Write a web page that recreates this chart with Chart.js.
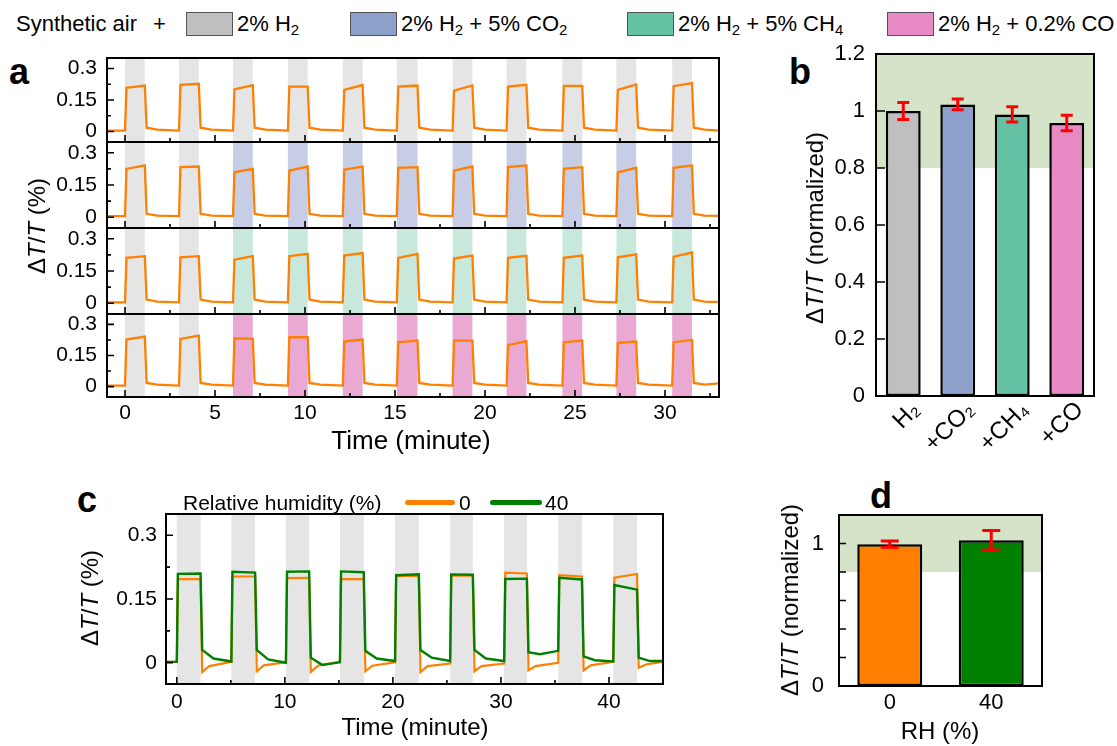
<!DOCTYPE html>
<html>
<head>
<meta charset="utf-8">
<script src="https://cdn.jsdelivr.net/npm/chart.js@4.4.1/dist/chart.umd.min.js"></script>
<style>
  body { margin: 0; background: #fff; }
  #fig { position: relative; width: 1117px; height: 746px; overflow: hidden; font-family: 'Liberation Sans', Arial, sans-serif; color: #000; }
  #fig canvas { position: absolute; }
  .txt { position: absolute; white-space: nowrap; line-height: 1; font-size: 21px; transform: translateY(-50%); }
  .leg { font-size: 22px; }
  .vlab { position: absolute; white-space: nowrap; line-height: 1; font-size: 24px; transform: translate(-50%, -50%) rotate(-90deg); }
  .hlab { position: absolute; white-space: nowrap; line-height: 1; font-size: 24px; transform: translate(-50%, -50%); }
  .letter { position: absolute; font-weight: bold; font-size: 36px; line-height: 1; }
  .box { position: absolute; top: 12px; width: 47px; height: 24px; border: 1px solid #555; box-sizing: border-box; }
  .sw { position: absolute; height: 5px; border-radius: 3px; }
  sub { font-size: 0.68em; vertical-align: -0.3em; line-height: 0; }
</style>
</head>
<body>
<div id="fig">
  <!-- top legend -->
  <div class="txt leg" style="left:16px;top:24px">Synthetic air</div>
  <div class="txt leg" style="left:153px;top:24px">+</div>
  <div class="box" style="left:186px;background:#bfbfbf"></div>
  <div class="txt leg" style="left:237px;top:24px">2% H<sub>2</sub></div>
  <div class="box" style="left:350px;background:#8da0cb"></div>
  <div class="txt leg" style="left:401px;top:24px">2% H<sub>2</sub> + 5% CO<sub>2</sub></div>
  <div class="box" style="left:627px;background:#66c2a5"></div>
  <div class="txt leg" style="left:678px;top:24px">2% H<sub>2</sub> + 5% CH<sub>4</sub></div>
  <div class="box" style="left:887px;background:#e78ac3"></div>
  <div class="txt leg" style="left:938px;top:24px">2% H<sub>2</sub> + 0.2% CO</div>

  <div class="letter" style="left:9px;top:54px">a</div>
  <div class="letter" style="left:789px;top:54px">b</div>
  <div class="letter" style="left:77px;top:482px">c</div>
  <div class="letter" style="left:870px;top:478px">d</div>

  <canvas id="a1"></canvas>
  <canvas id="a2"></canvas>
  <canvas id="a3"></canvas>
  <canvas id="a4"></canvas>
  <canvas id="b"></canvas>
  <canvas id="c"></canvas>
  <canvas id="d"></canvas>

  <div class="vlab" style="left:37px;top:226px">&Delta;<i>T</i>/<i>T</i> (%)</div>
  <div class="hlab" style="left:411px;top:440px;font-size:26px">Time (minute)</div>
  <div class="vlab" style="left:815px;top:228px">&Delta;<i>T</i>/<i>T</i> (normalized)</div>
  <div class="vlab" style="left:90px;top:598px">&Delta;<i>T</i>/<i>T</i> (%)</div>
  <div class="hlab" style="left:415px;top:727px">Time (minute)</div>
  <div class="vlab" style="left:790px;top:600px">&Delta;<i>T</i>/<i>T</i> (normalized)</div>
  <div class="hlab" style="left:940px;top:731px">RH (%)</div>

  <!-- panel c legend -->
  <div class="txt" style="left:183px;top:502px">Relative humidity (%)</div>
  <div class="sw" style="left:405px;top:500px;width:50px;background:#ff7f00"></div>
  <div class="txt" style="left:459px;top:502px">0</div>
  <div class="sw" style="left:490px;top:500px;width:52px;background:#008000"></div>
  <div class="txt" style="left:545px;top:502px">40</div>
</div>

<script>
// ---- panel a data: gas pulses (minutes) ----
const pulseOnA  = [0, 3.0, 6.0, 9.05, 12.1, 15.1, 18.2, 21.2, 24.3, 27.3, 30.4];
const pulseOffA = [1.1, 4.1, 7.1, 10.15, 13.2, 16.25, 19.3, 22.3, 25.4, 28.4, 31.5];
// response level right after the rise and right before the fall, one row per subplot
const riseA = [
  [0.208, 0.222, 0.200, 0.214, 0.198, 0.214, 0.195, 0.214, 0.217, 0.198, 0.216],
  [0.225, 0.233, 0.209, 0.217, 0.221, 0.230, 0.217, 0.233, 0.225, 0.209, 0.230],
  [0.211, 0.214, 0.203, 0.219, 0.222, 0.211, 0.208, 0.211, 0.211, 0.214, 0.217],
  [0.227, 0.230, 0.233, 0.238, 0.217, 0.214, 0.222, 0.200, 0.214, 0.211, 0.214]
];
const fallA = [
  [0.219, 0.227, 0.221, 0.214, 0.221, 0.219, 0.219, 0.222, 0.217, 0.224, 0.230],
  [0.241, 0.236, 0.225, 0.236, 0.236, 0.233, 0.236, 0.241, 0.233, 0.230, 0.241],
  [0.219, 0.219, 0.219, 0.230, 0.233, 0.230, 0.222, 0.221, 0.222, 0.227, 0.236],
  [0.241, 0.246, 0.230, 0.238, 0.227, 0.222, 0.222, 0.219, 0.222, 0.217, 0.225]
];
const baseA  = [0.004, 0.005, 0.004, 0.005];
const tailA  = [0.018, 0.016, 0.017, 0.018];  // just after the fall
const tail2A = [0.009, 0.008, 0.008, 0.010];  // ~0.7 min after the fall
const endA   = [0.004, 0.006, 0.005, 0.016];
const xTicksA = [0, 5, 10, 15, 20, 25, 30];
const xMinorA = [2.5, 7.5, 12.5, 17.5, 22.5, 27.5, 32.5];
const yTicksA = [0, 0.15, 0.3];
const yMinorA = [0.075, 0.225];
const gasShade = ['#e5e5e5', '#c6cde5', '#c8e8dc', '#eaa9d2'];

// ---- panel b data ----
const catsB = ['H\u2082', '+CO\u2082', '+CH\u2084', '+CO'];
const valsB = [1.0, 1.023, 0.988, 0.958];
const errB  = [0.03, 0.019, 0.027, 0.027];
const colorsB = ['#bfbfbf', '#8da0cb', '#66c2a5', '#e78ac3'];
const yTicksB = [0, 0.2, 0.4, 0.6, 0.8, 1, 1.2];

// ---- panel c data ----
const pulseOnC  = [0, 5.05, 10.1, 15.1, 20.2, 25.3, 30.3, 35.3, 40.4];
const pulseOffC = [2.2, 7.25, 12.25, 17.3, 22.4, 27.4, 32.4, 37.5, 42.6];
const orangeRiseC    = [0.197, 0.203, 0.199, 0.197, 0.204, 0.205, 0.212, 0.206, 0.200];
const orangeFallC    = [0.197, 0.203, 0.200, 0.197, 0.205, 0.205, 0.210, 0.203, 0.209];
const orangeDipC     = [-0.022, -0.020, -0.022, -0.020, -0.022, -0.020, -0.018, -0.018, -0.012];
const orangeRecoverC = [-0.008, -0.006, -0.007, -0.007, -0.008, -0.008, -0.008, -0.006, -0.004];
const orangeSettleC  = [0.002, 0.001, 0.003, 0.001, -0.002, -0.002, 0.000, 0.002, 0.002];
const greenRiseC     = [0.209, 0.214, 0.214, 0.215, 0.206, 0.208, 0.197, 0.200, 0.183];
const greenFallC     = [0.210, 0.212, 0.215, 0.213, 0.208, 0.207, 0.198, 0.196, 0.172];
const greenTailC     = [0.030, 0.030, 0.012, 0.028, 0.030, 0.030, 0.025, 0.015, 0.012];
const greenMidC      = [0.010, 0.008, -0.005, 0.010, 0.012, 0.010, 0.020, 0.006, 0.004];
const greenSettleC   = [0.003, 0.000, 0.001, 0.004, 0.004, 0.004, 0.028, 0.003, 0.004];
const xTicksC = [0, 10, 20, 30, 40];
const xMinorC = [5, 15, 25, 35];
const yTicksC = [0, 0.15, 0.3];
const yMinorC = [0.075, 0.225];

// ---- panel d data ----
const catsD = ['0', '40'];
const valsD = [0.995, 1.023];
const errD  = [0.022, 0.068];
const colorsD = ['#ff7f00', '#008000'];
const yTicksD = [0, 1];
const yMarksD = [0, 0.2, 0.4, 0.6, 0.8, 1];

const FONT = "'Liberation Sans', Arial, sans-serif";
Chart.defaults.font.family = FONT;
Chart.defaults.color = '#000';
const PAD = 14;

function place(id, area, yW, xH) {
  const c = document.getElementById(id);
  const w = area.r - area.l + yW + 2 * PAD;
  const h = area.b - area.t + xH + 2 * PAD;
  c.width = w; c.height = h;
  c.style.width = w + 'px'; c.style.height = h + 'px';
  c.style.left = (area.l - yW - PAD) + 'px';
  c.style.top = (area.t - PAD) + 'px';
  return c;
}
function fixY(w) { return s => { s.width = w; s.paddingTop = s.paddingBottom = s.paddingLeft = s.paddingRight = 0; }; }
function fixX(h) { return s => { s.height = h; s.paddingTop = s.paddingBottom = s.paddingLeft = s.paddingRight = 0; }; }
function setTicks(vals) { return s => { s.ticks = vals.map(v => ({ value: v })); }; }
const fmt = v => String(+(+v).toFixed(3));

// shaded bands, inward ticks and the box frame
function framePlugin(cfg) {
  return {
    id: 'frame',
    beforeDatasetsDraw(chart) {
      const { ctx, chartArea: a, scales: { x, y } } = chart;
      ctx.save();
      (cfg.xBands || []).forEach(b => {
        const x0 = x.getPixelForValue(b[0]), x1 = x.getPixelForValue(b[1]);
        ctx.fillStyle = b[2];
        ctx.fillRect(x0, a.top, x1 - x0, a.bottom - a.top);
      });
      (cfg.yBands || []).forEach(b => {
        const y0 = y.getPixelForValue(b[0]), y1 = y.getPixelForValue(b[1]);
        ctx.fillStyle = b[2];
        ctx.fillRect(a.left, y1, a.right - a.left, y0 - y1);
      });
      ctx.restore();
    },
    afterDatasetsDraw(chart) {
      const { ctx, chartArea: a, scales: { x, y } } = chart;
      ctx.save();
      ctx.strokeStyle = '#000';
      ctx.lineWidth = 1.6;
      ctx.beginPath();
      (cfg.xMajor || []).forEach(v => { const p = x.getPixelForValue(v); ctx.moveTo(p, a.bottom); ctx.lineTo(p, a.bottom - cfg.major); });
      (cfg.xMinor || []).forEach(v => { const p = x.getPixelForValue(v); ctx.moveTo(p, a.bottom); ctx.lineTo(p, a.bottom - cfg.minor); });
      (cfg.yMajor || []).forEach(v => { const p = y.getPixelForValue(v); ctx.moveTo(a.left, p); ctx.lineTo(a.left + cfg.major, p); });
      (cfg.yMinor || []).forEach(v => { const p = y.getPixelForValue(v); ctx.moveTo(a.left, p); ctx.lineTo(a.left + cfg.minor, p); });
      ctx.stroke();
      ctx.lineWidth = 2;
      ctx.strokeRect(a.left, a.top, a.right - a.left, a.bottom - a.top);
      ctx.restore();
    }
  };
}

function errorBars(errs, cap) {
  return {
    id: 'errbars',
    afterDatasetsDraw(chart) {
      const ctx = chart.ctx, y = chart.scales.y;
      const vals = chart.data.datasets[0].data;
      ctx.save();
      ctx.strokeStyle = '#ff0000';
      ctx.lineWidth = 3;
      chart.getDatasetMeta(0).data.forEach((bar, i) => {
        const hi = y.getPixelForValue(vals[i] + errs[i]);
        const lo = y.getPixelForValue(vals[i] - errs[i]);
        ctx.beginPath();
        ctx.moveTo(bar.x, hi); ctx.lineTo(bar.x, lo);
        ctx.moveTo(bar.x - cap, hi); ctx.lineTo(bar.x + cap, hi);
        ctx.moveTo(bar.x - cap, lo); ctx.lineTo(bar.x + cap, lo);
        ctx.stroke();
      });
      ctx.restore();
    }
  };
}

// polylines through the pulse levels
function traceA(k) {
  const pts = [{ x: -1, y: baseA[k] }];
  pulseOnA.forEach((t, i) => {
    const off = pulseOffA[i];
    pts.push({ x: t, y: baseA[k] }, { x: t + 0.08, y: riseA[k][i] },
             { x: off, y: fallA[k][i] }, { x: off + 0.1, y: tailA[k] },
             { x: off + 0.7, y: tail2A[k] });
  });
  pts.push({ x: 33, y: endA[k] });
  return pts;
}
function traceC(rise, fall, after, mid, midAt, settle) {
  const pts = [{ x: -1, y: 0.002 }];
  pulseOnC.forEach((t, i) => {
    const prev = i ? settle[i - 1] : 0.002;
    const off = pulseOffC[i];
    pts.push({ x: t, y: prev }, { x: t + 0.1, y: rise[i] },
             { x: off, y: fall[i] }, { x: off + 0.15, y: after[i] },
             { x: off + midAt, y: mid[i] });
  });
  pts.push({ x: 45, y: settle[settle.length - 1] });
  return pts;
}

const tickFont = { size: 21, family: FONT };
const baseOpts = {
  responsive: false, animation: false, devicePixelRatio: 1,
  layout: { padding: PAD },
  plugins: { legend: { display: false }, tooltip: { enabled: false } }
};

// ---- panel a ----
const rowsA = [[58, 142], [142, 228], [228, 314], [314, 397]];
rowsA.forEach((row, k) => {
  const last = k === 3;
  const xH = last ? 32 : 0;
  const cv = place('a' + (k + 1), { l: 107, r: 719, t: row[0], b: row[1] }, 70, xH);
  const bands = pulseOnA.map((t, i) => [t, pulseOffA[i], i < 2 ? gasShade[0] : gasShade[k]]);
  new Chart(cv, {
    type: 'line',
    data: { datasets: [{ data: traceA(k), borderColor: '#ff7f00', borderWidth: 2.3, pointRadius: 0, tension: 0 }] },
    options: Object.assign({}, baseOpts, {
      scales: {
        x: { type: 'linear', min: -1, max: 33, grid: { display: false, drawTicks: false }, border: { display: false },
             ticks: { display: last, font: tickFont, padding: 4, callback: fmt, maxRotation: 0 },
             afterBuildTicks: setTicks(xTicksA), afterFit: fixX(xH) },
        y: { min: -0.05, max: 0.35, grid: { display: false, drawTicks: false }, border: { display: false },
             ticks: { font: tickFont, padding: 10, callback: fmt },
             afterBuildTicks: setTicks(yTicksA), afterFit: fixY(70) }
      }
    }),
    plugins: [framePlugin({ xBands: bands, xMajor: xTicksA, xMinor: xMinorA, yMajor: yTicksA, yMinor: yMinorA, major: 7, minor: 4 })]
  });
});

// ---- panel b ----
const cvB = place('b', { l: 876, r: 1094, t: 54, b: 396 }, 70, 50);
new Chart(cvB, {
  type: 'bar',
  data: { labels: catsB, datasets: [{ data: valsB, backgroundColor: colorsB, borderColor: '#000', borderWidth: 2.5, borderSkipped: false, barPercentage: 0.64, categoryPercentage: 1 }] },
  options: Object.assign({}, baseOpts, {
    scales: {
      x: { grid: { display: false, drawTicks: false }, border: { display: false },
           ticks: { font: { size: 24, family: FONT }, minRotation: 45, maxRotation: 45, padding: 0, labelOffset: 13 }, afterFit: fixX(50) },
      y: { min: 0, max: 1.2, grid: { display: false, drawTicks: false }, border: { display: false },
           ticks: { font: { size: 22, family: FONT }, padding: 11, callback: fmt },
           afterBuildTicks: setTicks(yTicksB), afterFit: fixY(70) }
    }
  }),
  plugins: [framePlugin({ yBands: [[0.8, 1.2, '#d5e3c8']], yMajor: yTicksB, major: 9, minor: 0 }), errorBars(errB, 6)]
});

// ---- panel c ----
const cvC = place('c', { l: 166, r: 663, t: 514, b: 684 }, 70, 32);
new Chart(cvC, {
  type: 'line',
  data: { datasets: [
    { data: traceC(greenRiseC, greenFallC, greenTailC, greenMidC, 1.2, greenSettleC), borderColor: '#008000', borderWidth: 2.4, pointRadius: 0, tension: 0, order: 0 },
    { data: traceC(orangeRiseC, orangeFallC, orangeDipC, orangeRecoverC, 0.8, orangeSettleC), borderColor: '#ff7f00', borderWidth: 2.2, pointRadius: 0, tension: 0, order: 1 }
  ] },
  options: Object.assign({}, baseOpts, {
    scales: {
      x: { type: 'linear', min: -1, max: 45, grid: { display: false, drawTicks: false }, border: { display: false },
           ticks: { font: tickFont, padding: 6, callback: fmt, maxRotation: 0 },
           afterBuildTicks: setTicks(xTicksC), afterFit: fixX(32) },
      y: { min: -0.05, max: 0.35, grid: { display: false, drawTicks: false }, border: { display: false },
           ticks: { font: tickFont, padding: 9, callback: fmt },
           afterBuildTicks: setTicks(yTicksC), afterFit: fixY(70) }
    }
  }),
  plugins: [framePlugin({ xBands: pulseOnC.map((t, i) => [t, pulseOffC[i], '#e5e5e5']), xMajor: xTicksC, xMinor: xMinorC, yMajor: yTicksC, yMinor: yMinorC, major: 7, minor: 4 })]
});

// ---- panel d ----
const cvD = place('d', { l: 839, r: 1042, t: 515, b: 686 }, 70, 32);
new Chart(cvD, {
  type: 'bar',
  data: { labels: catsD, datasets: [{ data: valsD, backgroundColor: colorsD, borderColor: '#000', borderWidth: 2.5, borderSkipped: false, barPercentage: 0.64, categoryPercentage: 1 }] },
  options: Object.assign({}, baseOpts, {
    scales: {
      x: { grid: { display: false, drawTicks: false }, border: { display: false },
           ticks: { font: { size: 22, family: FONT }, padding: 4, maxRotation: 0 }, afterFit: fixX(32) },
      y: { min: 0, max: 1.2, grid: { display: false, drawTicks: false }, border: { display: false },
           ticks: { font: { size: 22, family: FONT }, padding: 15, callback: fmt },
           afterBuildTicks: setTicks(yTicksD), afterFit: fixY(70) }
    }
  }),
  plugins: [framePlugin({ yBands: [[0.8, 1.2, '#d5e3c8']], yMajor: yMarksD, major: 7, minor: 0 }), errorBars(errD, 9)]
});
</script>
</body>
</html>
